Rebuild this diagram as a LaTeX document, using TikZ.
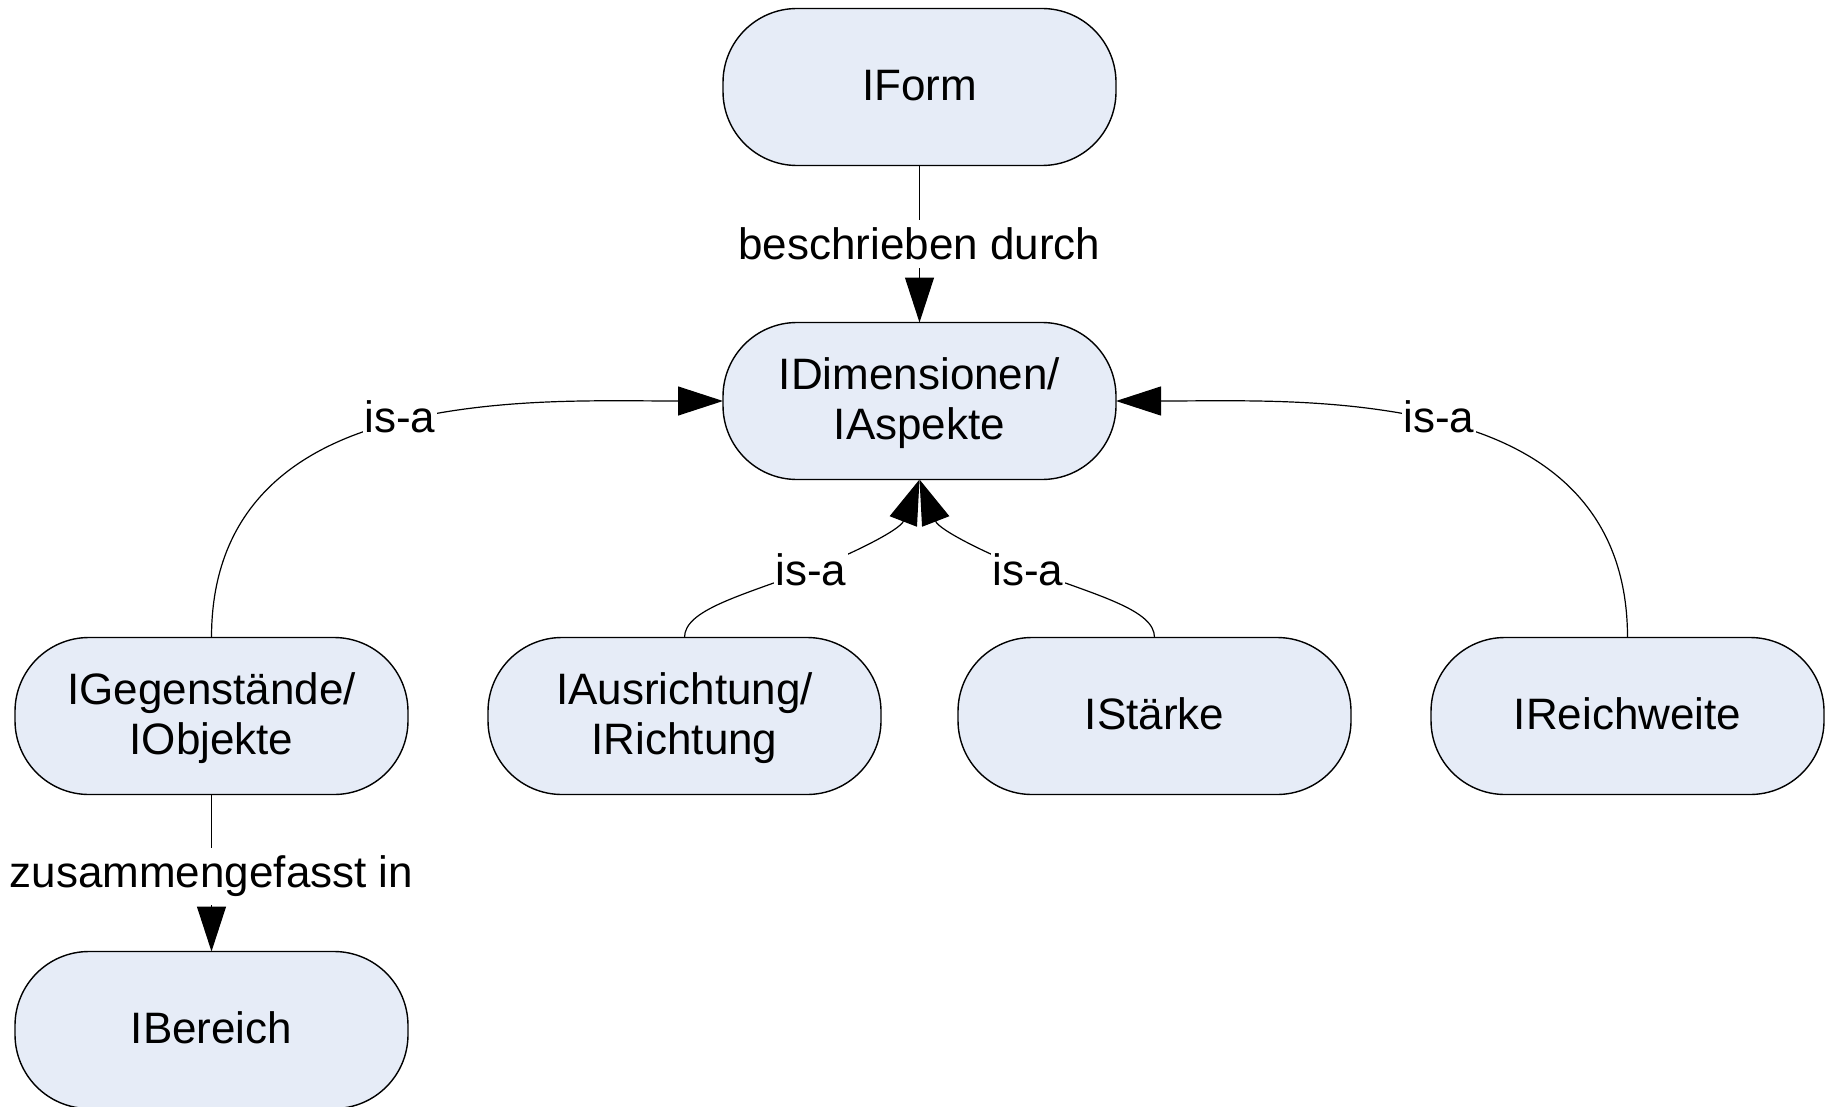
\documentclass[tikz,border=0pt]{standalone}
\usepackage{fontspec}
\setmainfont{Liberation Sans}
\usetikzlibrary{arrows.meta}
\definecolor{nodefill}{RGB}{230,236,247}
\newcommand{\firstline}{\rule{0pt}{18pt}}
\begin{document}
\begin{tikzpicture}[x=0.5pt,y=-0.5pt,
  concept/.style={draw=black, line width=0.7pt, fill=nodefill,
    rounded corners=37pt, minimum width=196.5pt, minimum height=78.5pt,
    inner sep=0pt, outer sep=0pt, align=center,
    font=\fontsize{22}{25}\selectfont},
  single/.style={text depth=2pt},
  rel/.style={draw=black, line width=0.6pt,
    -{Triangle[length=22.5pt,width=14.5pt]}},
  lbl/.style={fill=white, inner xsep=1pt, inner ysep=4pt,
    font=\fontsize{22}{25}\selectfont}]
\useasboundingbox (0,0) rectangle (1829,1107);

% concepts
\node[concept,single] (form) at (919.5,87) {IForm};
\node[concept] (dim)  at (919.5,401) {\firstline IDimensionen/\\IAspekte};
\node[concept] (geg)  at (211.5,716) {\firstline IGegenstände/\\IObjekte};
\node[concept] (aus)  at (684.5,716) {\firstline IAusrichtung/\\IRichtung};
\node[concept,single] (stk) at (1154.5,716) {IStärke};
\node[concept,single] (rw)  at (1627.5,716) {IReichweite};
\node[concept,single] (ber) at (211.5,1030) {IBereich};

% relations
\draw[rel] (form) -- node[lbl] {beschrieben durch} (dim);
\draw[rel] (geg) -- node[lbl,pos=0.52] {zusammengefasst in} (ber);

\draw[rel] (geg.north) .. controls (211.5,520) and (280,450) .. (400,421)
  node[lbl,yshift=2pt] {is-a}
  .. controls (500,397) and (600,401) .. (dim.west);
\draw[rel] (rw.north) .. controls (1627.5,520) and (1559,450) .. (1439,421)
  node[lbl,yshift=2pt] {is-a}
  .. controls (1339,397) and (1239,401) .. (dim.east);

\draw[rel] (aus.north) .. controls (684.5,610) and (740,596) .. (811,569.5)
  node[lbl] {is-a}
  .. controls (850,555) and (900,530) .. (dim.south);
\draw[rel] (stk.north) .. controls (1154.5,610) and (1099,596) .. (1028,569.5)
  node[lbl] {is-a}
  .. controls (989,555) and (939,530) .. (dim.south);
\end{tikzpicture}
\end{document}
